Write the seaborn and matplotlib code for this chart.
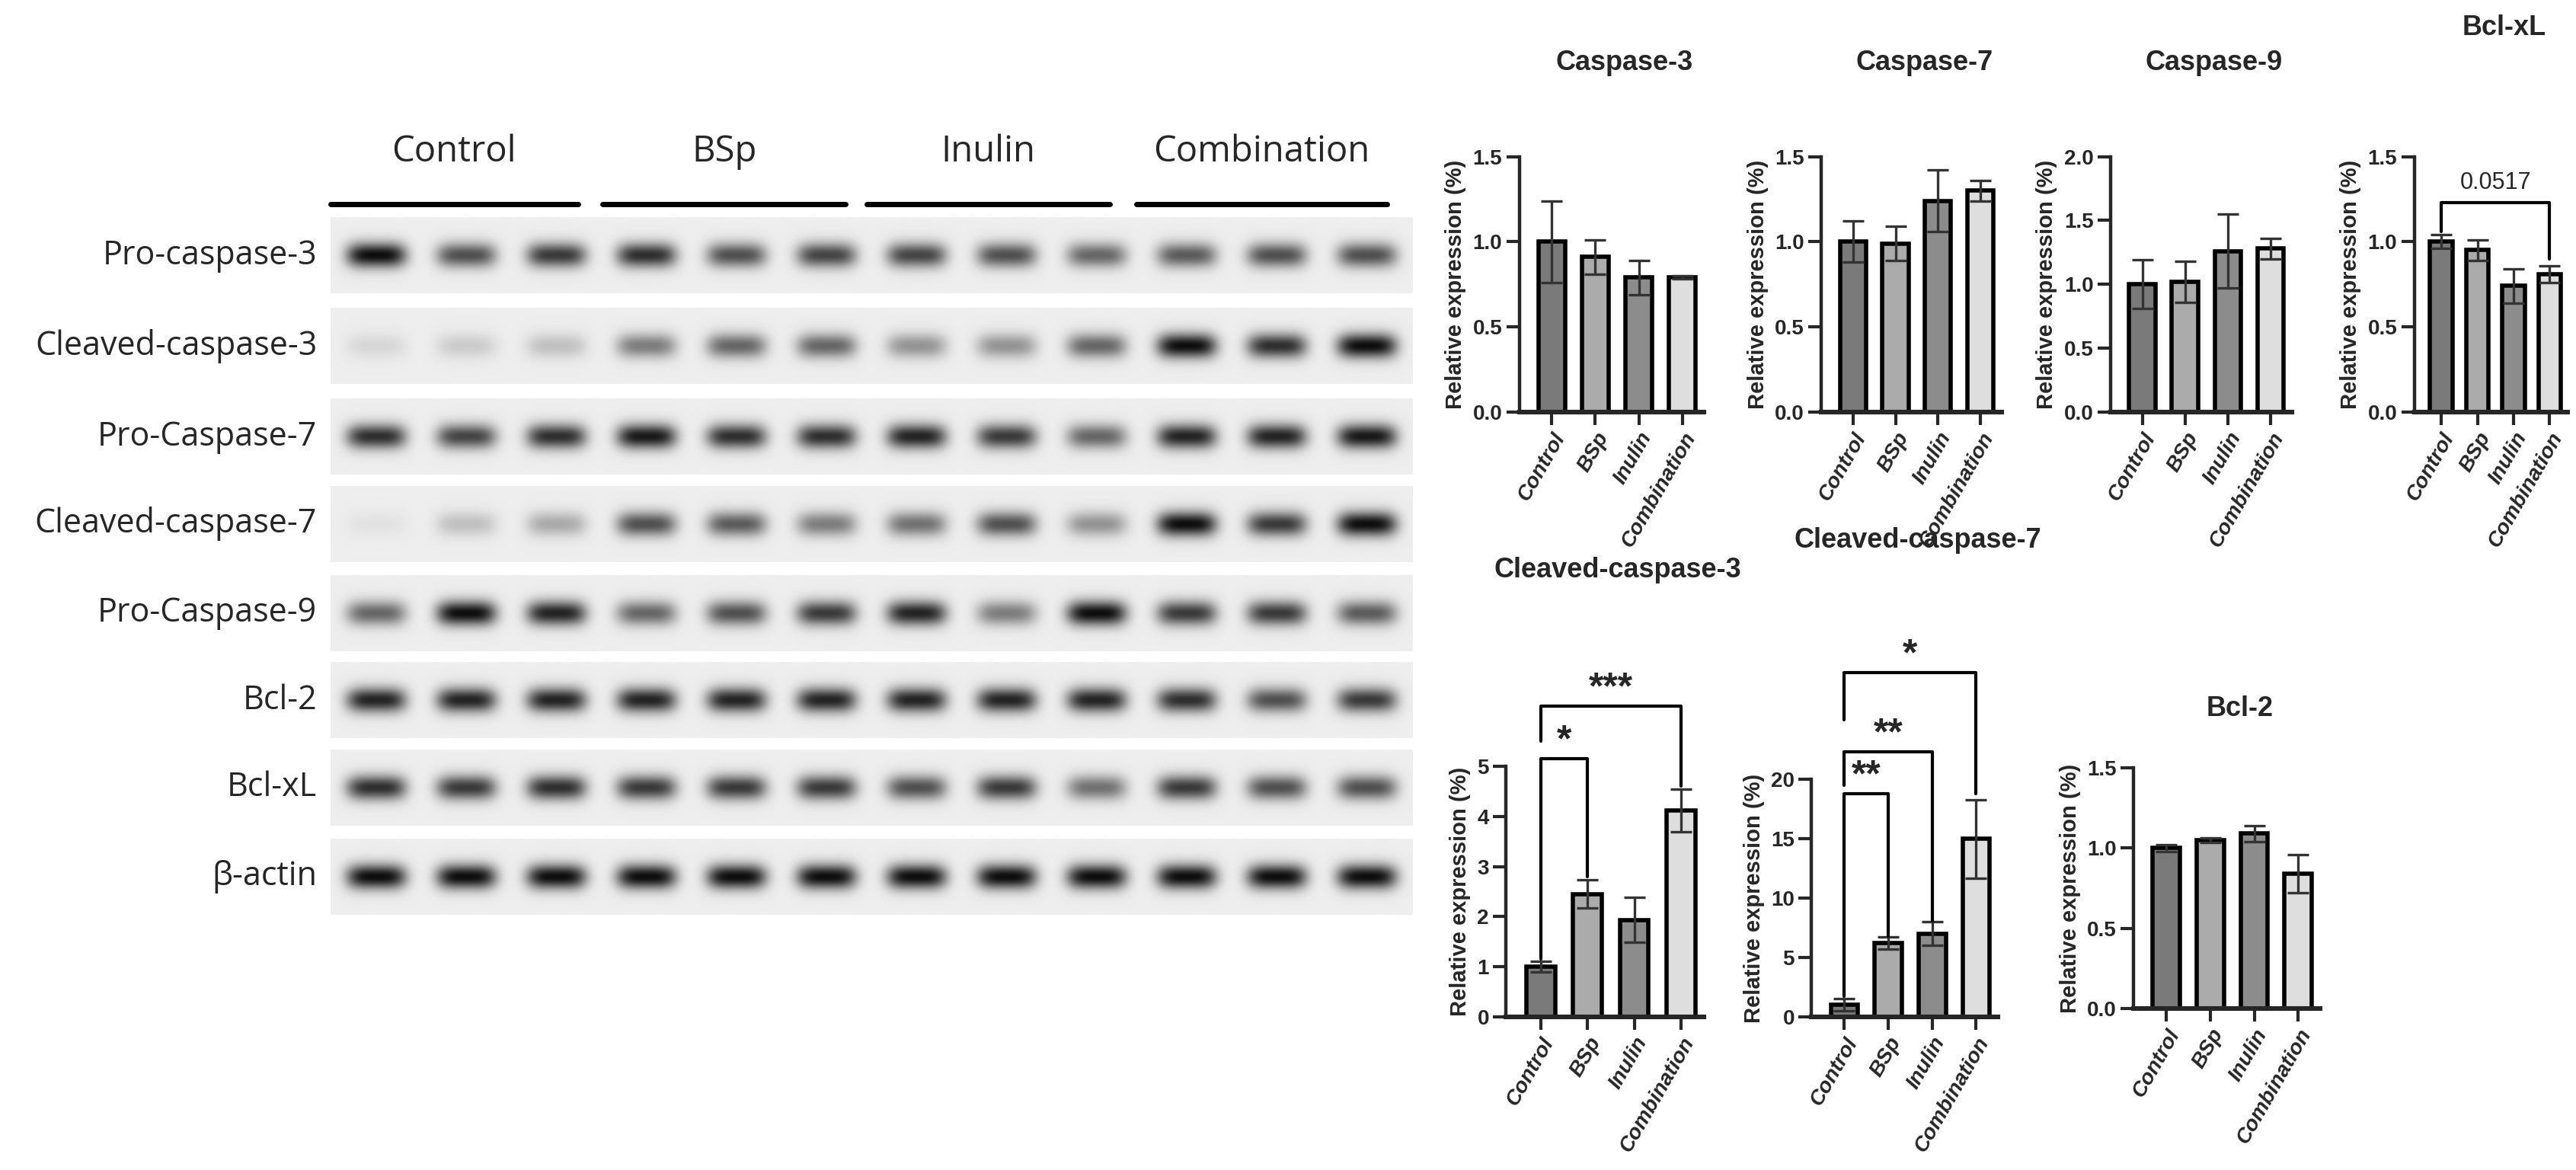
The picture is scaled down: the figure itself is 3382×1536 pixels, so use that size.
import numpy as np
import pandas as pd
import matplotlib
matplotlib.use("Agg")
import matplotlib.pyplot as plt
import seaborn as sns

sns.set_style("white")
plt.rcParams['font.family'] = ['Liberation Sans', 'DejaVu Sans']

groups = ["Control", "BSp", "Inulin", "Combination"]
bar_colors = ["#7a7a7a", "#ababab", "#8c8c8c", "#dedede"]

casp3 = [1.0, 0.91, 0.79, 0.79]; casp3_err = [0.24, 0.10, 0.10, 0.01]
casp7 = [1.0, 0.99, 1.24, 1.30]; casp7_err = [0.12, 0.10, 0.18, 0.06]
casp9 = [1.0, 1.02, 1.26, 1.28]; casp9_err = [0.19, 0.16, 0.29, 0.08]
bclxl = [1.0, 0.95, 0.74, 0.81]; bclxl_err = [0.04, 0.06, 0.10, 0.05]
ccasp3 = [1.0, 2.45, 1.93, 4.12]; ccasp3_err = [0.10, 0.28, 0.45, 0.43]
ccasp7 = [1.0, 6.2, 7.0, 15.0]; ccasp7_err = [0.5, 0.5, 1.0, 3.3]
bcl2 = [1.0, 1.05, 1.09, 0.84]; bcl2_err = [0.02, 0.015, 0.05, 0.12]

blot_rows = ["Pro-caspase-3", "Cleaved-caspase-3", "Pro-Caspase-7", "Cleaved-caspase-7",
             "Pro-Caspase-9", "Bcl-2", "Bcl-xL", "β-actin"]
blot_intensity = [
    [1.0, 0.7, 0.8, 0.85, 0.7, 0.75, 0.75, 0.7, 0.6, 0.65, 0.7, 0.7],
    [0.1, 0.15, 0.2, 0.5, 0.6, 0.6, 0.4, 0.4, 0.6, 1.0, 0.85, 1.0],
    [0.85, 0.75, 0.85, 0.95, 0.85, 0.85, 0.9, 0.8, 0.6, 0.9, 0.9, 0.95],
    [0.05, 0.2, 0.3, 0.7, 0.65, 0.5, 0.55, 0.7, 0.4, 1.0, 0.8, 1.0],
    [0.6, 1.0, 0.9, 0.6, 0.7, 0.8, 0.9, 0.5, 1.0, 0.8, 0.8, 0.65],
    [0.9, 0.9, 0.9, 0.9, 0.9, 0.9, 0.9, 0.9, 0.9, 0.85, 0.7, 0.8],
    [0.85, 0.8, 0.85, 0.8, 0.8, 0.8, 0.7, 0.8, 0.55, 0.8, 0.7, 0.7],
    [1.0] * 12,
]

W, H = 3382, 1536
fig = plt.figure(figsize=(W / 200, H / 200), dpi=200)
DW, DH = 1560.0, 710.0

def rect(x0, y0, x1, y1):
    return [x0 / DW, 1 - y1 / DH, (x1 - x0) / DW, (y1 - y0) / DH]

# ---------------- Western blot ----------------
row_centers = [155, 210, 265, 318, 372, 425, 478, 532]
bax = fig.add_axes(rect(200, 130, 855, 560))
bax.set_xlim(0, 12); bax.set_ylim(560, 130)
bax.axis("off")
xs = np.linspace(0, 12, 600)
for r, (name, inten) in enumerate(zip(blot_rows, blot_intensity)):
    yc = row_centers[r]
    ys = np.linspace(yc - 23, yc + 23, 60)
    X, Y = np.meshgrid(xs, ys)
    img = np.zeros_like(X)
    for i, v in enumerate(inten):
        cx = i + 0.5
        img += v * np.exp(-((X - cx) / 0.33) ** 4 - ((Y - yc) / 7.5) ** 2)
    img = np.clip(img, 0, 1)
    bax.imshow(0.93 - 0.88 * img, cmap="gray", vmin=0, vmax=1, aspect="auto",
               extent=[0, 12, yc + 23, yc - 23], interpolation="bilinear")
    fig.text(192 / DW, 1 - yc / DH, name, ha="right", va="center", fontsize=15.5,
             family=['Open Sans', 'DejaVu Sans'])
group_x = [(200, 350), (365, 512), (525, 672), (688, 840)]
for g, (a, b) in zip(groups, group_x):
    fig.text((a + b) / 2 / DW, 1 - 92 / DH, g, ha="center", va="center", fontsize=17,
             family=['Open Sans', 'DejaVu Sans'])
    fig.add_artist(plt.Line2D([a / DW, b / DW], [1 - 124 / DH] * 2, color="black", lw=2.5))

# ---------------- bar charts ----------------
def bar_panel(box, vals, errs, title, ymax, step, title_y, fmt="{:.1f}"):
    ax = fig.add_axes(rect(*box))
    df = pd.DataFrame({"group": groups, "value": vals})
    sns.barplot(data=df, x="group", y="value", hue="group", palette=bar_colors,
                edgecolor="black", linewidth=2, width=0.62, errorbar=None, legend=False, ax=ax)
    ax.errorbar(range(4), vals, yerr=errs, fmt="none", ecolor="#333333", elinewidth=1.2,
                capsize=5, capthick=1.2)
    ax.set_ylim(0, ymax)
    ax.set_xlim(-0.75, 3.5)
    ticks = np.arange(0, ymax + step / 2, step)
    ax.set_yticks(ticks)
    ax.set_yticklabels([fmt.format(t) for t in ticks], fontsize=10, fontweight="bold")
    ax.set_xticks(range(4))
    ax.set_xticklabels(groups, rotation=60, ha="right", rotation_mode="anchor",
                       fontsize=10, fontweight="bold", style="italic")
    ax.set_xlabel("")
    ax.set_ylabel("Relative expression (%)", fontsize=10.5, fontweight="bold", labelpad=3)
    for s in ["top", "right"]:
        ax.spines[s].set_visible(False)
    ax.spines["left"].set_linewidth(1.6)
    ax.spines["bottom"].set_linewidth(2.2)
    ax.tick_params(axis="both", length=6, width=1.5, left=True, bottom=True, pad=2)
    fig.text((box[0] + box[2]) / 2 / DW + 0.005, 1 - title_y / DH, title, ha="center",
             va="center", fontsize=13, fontweight="bold")
    return ax

def bracket(ax, x1, x2, y, l1, l2, label, fs=18, off=0.0):
    ax.plot([x1, x1, x2, x2], [l1, y, y, l2], color="black", lw=1.5, clip_on=False)
    ax.text((x1 + x2) / 2, y + off, label, ha="center", va="bottom", fontsize=fs,
            fontweight="bold", clip_on=False)

bar_panel((920, 95, 1032, 250), casp3, casp3_err, "Caspase-3", 1.5, 0.5, 38)
bar_panel((1103, 95, 1212, 250), casp7, casp7_err, "Caspase-7", 1.5, 0.5, 38)
bar_panel((1278, 95, 1388, 250), casp9, casp9_err, "Caspase-9", 2.0, 0.5, 38)
ax = bar_panel((1462, 95, 1555, 250), bclxl, bclxl_err, "Bcl-xL", 1.5, 0.5, 17)
ax.plot([0, 0, 3, 3], [1.06, 1.23, 1.23, 0.9], color="black", lw=1.5)
ax.text(1.5, 1.28, "0.0517", ha="center", va="bottom", fontsize=11)

ax = bar_panel((912, 465, 1032, 617), ccasp3, ccasp3_err, "Cleaved-caspase-3", 5, 1, 346, fmt="{:.0f}")
bracket(ax, 0, 1, 5.15, 1.15, 2.8, "*")
bracket(ax, 0, 3, 6.2, 5.5, 4.6, "***")
ax = bar_panel((1097, 473, 1210, 617), ccasp7, ccasp7_err, "Cleaved-caspase-7", 20, 5, 328, fmt="{:.0f}")
bracket(ax, 0, 1, 18.8, 1.7, 6.8, "**")
bracket(ax, 0, 2, 22.3, 19.5, 8.1, "**")
bracket(ax, 0, 3, 29.0, 25.0, 18.8, "*")
bar_panel((1292, 466, 1405, 612), bcl2, bcl2_err, "Bcl-2", 1.5, 0.5, 430)

fig.savefig("out.png", dpi=200, facecolor="white")
